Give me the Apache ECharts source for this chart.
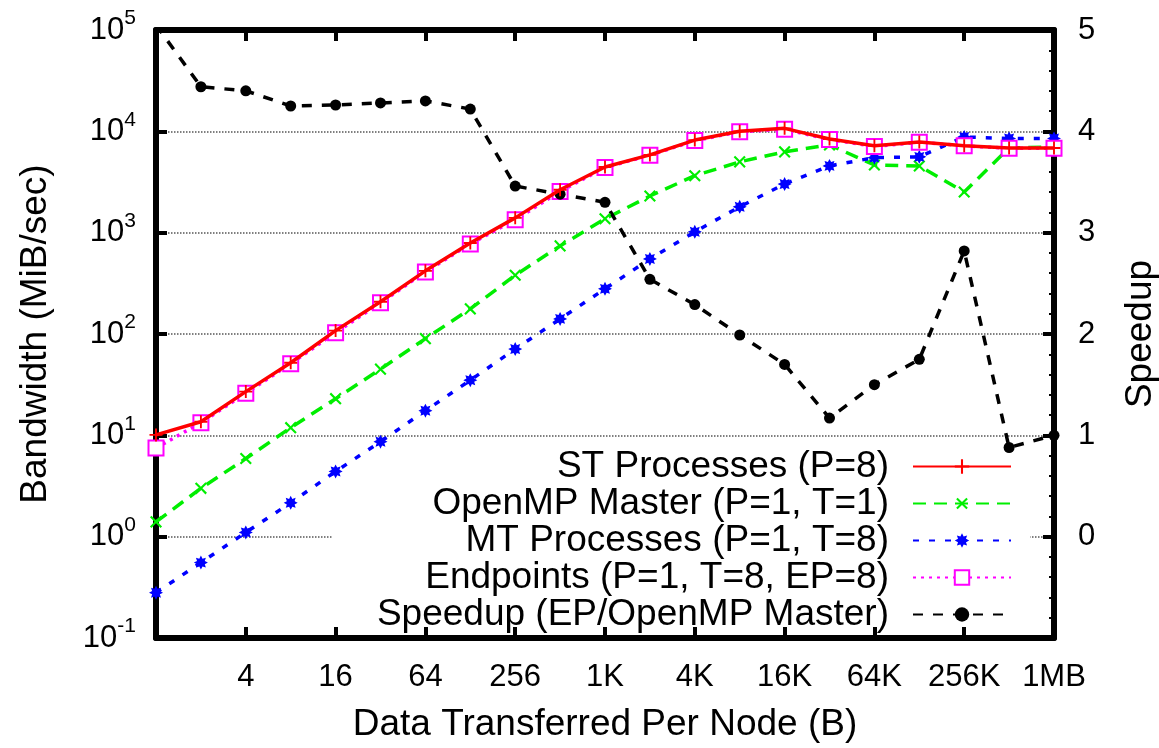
<!DOCTYPE html>
<html>
<head>
<meta charset="utf-8">
<script src="https://cdn.jsdelivr.net/npm/echarts@6/dist/echarts.min.js"></script>
<style>
  html, body { margin: 0; padding: 0; background: #fff; }
  #chart { width: 1159px; height: 748px; }
</style>
</head>
<body>
<div id="chart"></div>
<script>
// message sizes, bytes (2^0 .. 2^20)
const sizes = [1, 2, 4, 8, 16, 32, 64, 128, 256, 512, 1024, 2048, 4096, 8192,
  16384, 32768, 65536, 131072, 262144, 524288, 1048576];

// bandwidth, MiB/sec
const stProcesses = [10.1, 13.6, 27, 52, 108, 208, 420, 790, 1400, 2650, 4450,
  5850, 8200, 10000, 10700, 8400, 7200, 7850, 7200, 6850, 6850];
const openmpMaster = [1.4, 3.0, 5.9, 11.9, 23, 45, 90, 177, 380, 740, 1370,
  2300, 3650, 5000, 6270, 7350, 4660, 4550, 2520, 6850, 7000];
const mtProcesses = [0.28, 0.555, 1.1, 2.16, 4.4, 8.65, 17.5, 35, 71, 141, 279,
  550, 1020, 1800, 3020, 4560, 5500, 5600, 8800, 8500, 8500];
const endpoints = [7.5, 13.3, 26, 51, 103, 203, 410, 775, 1340, 2550, 4400,
  5800, 8100, 9900, 10500, 8300, 7100, 7800, 7200, 6800, 6800];

// speedup, EP / OpenMP Master (right axis)
const speedup = [5.05, 4.44, 4.40, 4.25, 4.26, 4.28, 4.30, 4.22, 3.46, 3.38,
  3.30, 2.54, 2.29, 1.99, 1.70, 1.17, 1.50, 1.75, 2.82, 0.88, 1.0];

const seriesNames = ['ST Processes (P=8)', 'OpenMP Master (P=1, T=1)',
  'MT Processes (P=1, T=8)', 'Endpoints (P=1, T=8, EP=8)', 'Speedup (EP/OpenMP Master)'];

var chart = echarts.init(document.getElementById('chart'));

var FONT = 'Liberation Sans';
var BIG = 37;   // legend and axis titles
var TICK = 31;  // tick labels

function pairs(arr) {
  return sizes.map(function (s, i) { return [s, arr[i]]; });
}

function sizeLabel(v) {
  if (v < 2) return '';
  if (v >= 1048576) return (v / 1048576) + 'MB';
  if (v >= 1024) return (v / 1024) + 'K';
  return '' + v;
}

// marker shapes
var plusPath = 'path://M-1,-7L1,-7L1,-1L7,-1L7,1L1,1L1,7L-1,7L-1,1L-7,1L-7,-1L-1,-1Z';
var starPath = (function () {
  var pts = [];
  for (var k = 0; k < 16; k++) {
    var r = k % 2 === 0 ? 7 : 4.2;
    var a = Math.PI * k / 8;
    pts.push((r * Math.cos(a)).toFixed(2) + ',' + (r * Math.sin(a)).toFixed(2));
  }
  return 'path://M' + pts.join('L') + 'Z';
})();

var xAxisBase = {
  type: 'log',
  logBase: 2,
  min: 1,
  max: 1048576,
  interval: 2,
  z: 5,
  axisLine: { show: true, onZero: false, lineStyle: { color: '#000', width: 6 } },
  axisTick: { show: true, inside: true, length: 11, lineStyle: { color: '#000', width: 4 } },
  splitLine: { show: false },
  minorTick: { show: false }
};

var option = {
  backgroundColor: '#fff',
  animation: false,
  textStyle: { fontFamily: FONT },
  grid: {
    left: 156, right: 105, top: 30, bottom: 110, show: false,
    containLabel: false, outerBoundsMode: 'none'
  },
  legend: {
    data: seriesNames,
    orient: 'vertical',
    align: 'right',
    right: 129,
    top: 448,
    z: 4,
    itemWidth: 98,
    itemHeight: 18,
    itemGap: 0,
    padding: [0, 18, 0, 45],
    backgroundColor: '#fff',
    textStyle: { fontFamily: FONT, fontSize: BIG, lineHeight: 36, color: '#000', padding: [0, 19, 0, 0] }
  },
  xAxis: [
    Object.assign({}, xAxisBase, {
      position: 'bottom',
      name: 'Data Transferred Per Node (B)',
      nameLocation: 'middle',
      nameGap: 68,
      nameTextStyle: { fontFamily: FONT, fontSize: BIG, color: '#000' },
      axisLabel: {
        margin: 24, fontFamily: FONT, fontSize: TICK, color: '#000',
        formatter: sizeLabel, showMinLabel: true, showMaxLabel: true
      }
    }),
    Object.assign({}, xAxisBase, {
      position: 'top',
      axisLabel: { show: false }
    })
  ],
  yAxis: [
    {
      type: 'log',
      logBase: 10,
      min: 0.1,
      max: 100000,
      position: 'left',
      name: 'Bandwidth (MiB/sec)',
      nameLocation: 'middle',
      nameGap: 102,
      nameRotate: 90,
      nameTextStyle: { fontFamily: FONT, fontSize: BIG, color: '#000' },
      axisLine: { show: true, onZero: false, lineStyle: { color: '#000', width: 6 } },
      axisTick: { show: true, inside: true, length: 11, lineStyle: { color: '#000', width: 4 } },
      splitLine: { show: true, lineStyle: { color: '#555', type: 'dotted', width: 1.5 } },
      axisLabel: {
        margin: 20,
        formatter: function (v) {
          var e = Math.round(Math.log10(v));
          return '{b|10}{s|' + e + '}';
        },
        rich: {
          b: { fontFamily: FONT, fontSize: TICK, lineHeight: 44, color: '#000' },
          s: { fontFamily: FONT, fontSize: 21, lineHeight: 21, verticalAlign: 'top', color: '#000' }
        }
      }
    },
    {
      type: 'value',
      min: -1,
      max: 5,
      interval: 1,
      position: 'right',
      z: 5,
      name: 'Speedup',
      nameLocation: 'middle',
      nameGap: 68,
      nameRotate: 90,
      nameTextStyle: { fontFamily: FONT, fontSize: BIG, color: '#000' },
      axisLine: { show: true, onZero: false, lineStyle: { color: '#000', width: 6 } },
      axisTick: { show: true, inside: true, length: 11, lineStyle: { color: '#000', width: 4 } },
      minorTick: { show: true, splitNumber: 5, length: 5, lineStyle: { color: '#000', width: 2 } },
      splitLine: { show: false },
      axisLabel: {
        margin: 24, fontFamily: FONT, fontSize: TICK, color: '#000',
        formatter: function (v) { return v < 0 ? '' : '' + v; }
      }
    }
  ],
  series: [
    {
      name: seriesNames[0], type: 'line', xAxisIndex: 0, yAxisIndex: 0,
      data: pairs(stProcesses),
      symbol: plusPath, symbolSize: 13,
      lineStyle: { color: '#ff0000', width: 3.5, type: 'solid' },
      itemStyle: { color: '#ff0000' }, z: 7
    },
    {
      name: seriesNames[1], type: 'line', xAxisIndex: 0, yAxisIndex: 0,
      data: pairs(openmpMaster),
      symbol: plusPath, symbolSize: 15, symbolRotate: 45,
      lineStyle: { color: '#00ee00', width: 3.5, type: [13, 8] },
      itemStyle: { color: '#00ee00' }, z: 6
    },
    {
      name: seriesNames[2], type: 'line', xAxisIndex: 0, yAxisIndex: 0,
      data: pairs(mtProcesses),
      symbol: starPath, symbolSize: 14,
      lineStyle: { color: '#0000ff', width: 3.5, type: [6, 10] },
      itemStyle: { color: '#0000ff' }, z: 6
    },
    {
      name: seriesNames[3], type: 'line', xAxisIndex: 0, yAxisIndex: 0,
      data: pairs(endpoints),
      symbol: 'emptyRect', symbolSize: 15,
      lineStyle: { color: '#ff00ff', width: 3.5, type: [3, 5] },
      itemStyle: { color: '#ff00ff', borderWidth: 3 }, z: 6
    },
    {
      name: seriesNames[4], type: 'line', xAxisIndex: 0, yAxisIndex: 1,
      data: pairs(speedup),
      symbol: 'circle', symbolSize: 11,
      lineStyle: { color: '#000', width: 3.5, type: [10, 10] },
      itemStyle: { color: '#000' }, z: 6
    }
  ]
};

chart.setOption(option);
</script>
</body>
</html>
